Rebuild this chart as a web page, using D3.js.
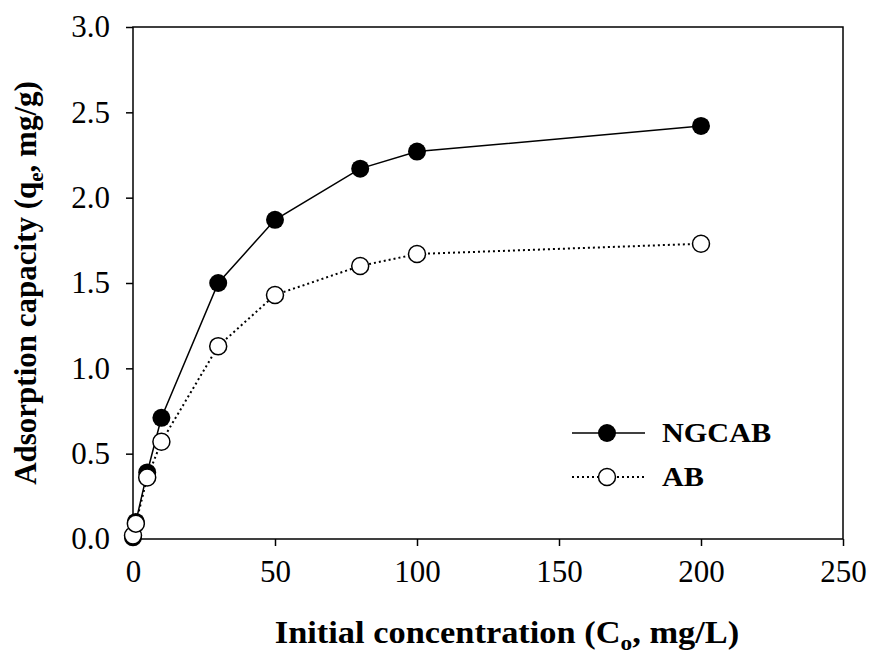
<!DOCTYPE html>
<html>
<head>
<meta charset="utf-8">
<script src="https://cdn.jsdelivr.net/npm/d3@7"></script>
<style>
  body { margin: 0; background: #fff; }
  text { font-family: "Liberation Serif", "Times New Roman", serif; }
</style>
</head>
<body>
<div id="chart"></div>
<script>
// data
const conc = [0, 1, 5, 10, 30, 50, 80, 100, 200];
const ngcab = [0.01, 0.1, 0.39, 0.71, 1.50, 1.87, 2.17, 2.27, 2.42];
const ab = [0.02, 0.09, 0.36, 0.57, 1.13, 1.43, 1.60, 1.67, 1.73];
const xTicks = [0, 50, 100, 150, 200, 250];
const yTicks = [0, 0.5, 1.0, 1.5, 2.0, 2.5, 3.0];

const width = 872, height = 658;
const margin = {top: 27, right: 29, bottom: 119, left: 133};
const plotWidth = width - margin.left - margin.right;
const plotHeight = height - margin.top - margin.bottom;

const svg = d3.select("#chart").append("svg")
    .attr("width", width)
    .attr("height", height);

const x = d3.scaleLinear().domain([0, 250]).range([0, plotWidth]);
const y = d3.scaleLinear().domain([0, 3]).range([plotHeight, 0]);

const g = svg.append("g")
    .attr("transform", `translate(${margin.left},${margin.top})`);

// frame
g.append("rect")
    .attr("width", plotWidth)
    .attr("height", plotHeight)
    .attr("fill", "none")
    .attr("stroke", "#000")
    .attr("stroke-width", 1.5);

// x axis
const xAxis = g.append("g")
    .attr("transform", `translate(0,${plotHeight})`)
    .call(d3.axisBottom(x).tickValues(xTicks).tickSize(7).tickPadding(14).tickFormat(d3.format("d")));
xAxis.select(".domain").remove();
xAxis.selectAll("line").attr("stroke-width", 1.5);
xAxis.selectAll("text").attr("font-size", 31).attr("fill", "#000")
    .style("font-family", "'Liberation Serif', serif");

// y axis
const yAxis = g.append("g")
    .call(d3.axisLeft(y).tickValues(yTicks).tickSize(7).tickPadding(16).tickFormat(d3.format(".1f")));
yAxis.select(".domain").remove();
yAxis.selectAll("line").attr("stroke-width", 1.5);
yAxis.selectAll("text").attr("font-size", 31).attr("fill", "#000")
    .style("font-family", "'Liberation Serif', serif");

// axis titles (reference text is slightly stretched horizontally)
const xTitle = svg.append("text")
    .attr("transform", "translate(507,643) scale(1.11,1)")
    .attr("text-anchor", "middle")
    .attr("font-size", 31)
    .attr("font-weight", "bold");
xTitle.append("tspan").text("Initial concentration (C");
xTitle.append("tspan").text("o").attr("font-size", 21).attr("dy", 7);
xTitle.append("tspan").text(", mg/L)").attr("dy", -7);

const yTitle = svg.append("text")
    .attr("transform", `translate(36,${margin.top + plotHeight / 2}) rotate(-90)`)
    .attr("text-anchor", "middle")
    .attr("font-size", 31)
    .attr("font-weight", "bold");
yTitle.append("tspan").text("Adsorption capacity (q");
yTitle.append("tspan").text("e").attr("font-size", 21).attr("dy", 7);
yTitle.append("tspan").text(", mg/g)").attr("dy", -7);

// lines
const line = d3.line().x(d => x(d[0])).y(d => y(d[1]));
const ngData = conc.map((c, i) => [c, ngcab[i]]);
const abData = conc.map((c, i) => [c, ab[i]]);

const plot = g.append("g").attr("id", "plot");

plot.append("path")
    .datum(ngData)
    .attr("d", line)
    .attr("fill", "none")
    .attr("stroke", "#000")
    .attr("stroke-width", 1.5);

plot.append("path")
    .datum(abData)
    .attr("d", line)
    .attr("fill", "none")
    .attr("stroke", "#000")
    .attr("stroke-width", 2)
    .attr("stroke-dasharray", "2,3");

plot.selectAll(".ng")
    .data(ngData)
    .enter().append("circle")
    .attr("class", "ng")
    .attr("cx", d => x(d[0]))
    .attr("cy", d => y(d[1]))
    .attr("r", 9)
    .attr("fill", "#000");

plot.selectAll(".ab")
    .data(abData)
    .enter().append("circle")
    .attr("class", "ab")
    .attr("cx", d => x(d[0]))
    .attr("cy", d => y(d[1]))
    .attr("r", 8.5)
    .attr("fill", "#fff")
    .attr("stroke", "#000")
    .attr("stroke-width", 1.5);

// legend
const legend = svg.append("g").attr("transform", "translate(572,433)");
const items = [
    {label: "NGCAB", filled: true},
    {label: "AB", filled: false}
];
const li = legend.selectAll("g")
    .data(items)
    .enter().append("g")
    .attr("transform", (d, i) => `translate(0,${i * 44})`);
li.append("line")
    .attr("x1", 0).attr("x2", 73)
    .attr("stroke", "#000")
    .attr("stroke-width", d => d.filled ? 1.5 : 2)
    .attr("stroke-dasharray", d => d.filled ? null : "2,3");
li.append("circle")
    .attr("cx", 35)
    .attr("r", d => d.filled ? 9 : 8.5)
    .attr("fill", d => d.filled ? "#000" : "#fff")
    .attr("stroke", "#000")
    .attr("stroke-width", d => d.filled ? 0 : 1.5);
li.append("text")
    .attr("transform", "translate(90,9) scale(1.12,1)")
    .attr("font-size", 27)
    .attr("font-weight", "bold")
    .text(d => d.label);
</script>
</body>
</html>
